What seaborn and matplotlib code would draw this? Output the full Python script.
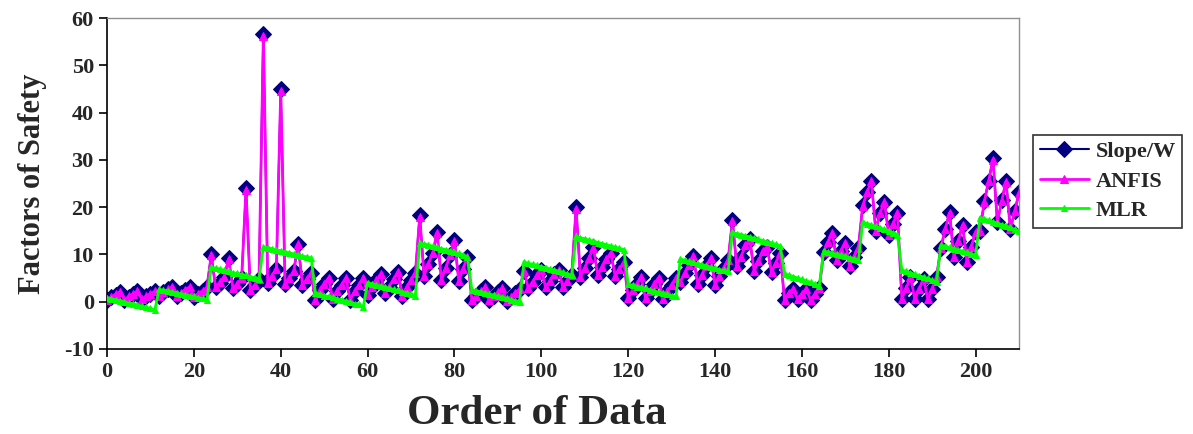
import numpy as np
import matplotlib
matplotlib.use("Agg")
import matplotlib.pyplot as plt
import seaborn as sns

# Slope/W factors of safety (blocks of 12, later blocks of 9/10)
slope_w = [
    0.3, 1.0, 1.5, 2.1, 0.4, 1.0, 1.6, 2.2, 0.5, 1.1, 1.7, 2.3,
    1.3, 2.0, 2.6, 3.2, 1.2, 1.9, 2.5, 3.1, 1.0, 1.7, 2.3, 3.0,
    10.0, 3.0, 4.0, 5.2, 9.2, 2.8, 3.8, 5.0, 24.0, 2.5, 3.5, 4.8,
    56.7, 4.0, 5.5, 7.0, 45.0, 3.8, 5.0, 6.5, 12.3, 3.5, 4.8, 6.0,
    0.3, 2.5, 3.8, 5.0, 0.5, 2.3, 3.6, 5.0, 0.4, 2.2, 3.5, 4.9,
    1.5, 3.0, 4.5, 5.8, 1.8, 3.2, 4.8, 6.3, 1.3, 3.0, 4.5, 6.0,
    18.3, 5.5, 8.0, 10.3, 14.8, 4.6, 7.2, 9.8, 13.0, 4.4, 7.0, 9.5,
    0.4, 1.2, 2.2, 3.0, 0.3, 1.1, 2.0, 2.8, 0.2, 1.0, 1.9, 2.7,
    6.5, 2.8, 4.2, 5.6, 6.8, 3.0, 4.4, 5.8, 6.6, 3.0, 4.3, 5.6,
    20.0, 5.2, 7.2, 9.2, 11.5, 5.6, 7.4, 9.0, 10.3, 5.5, 6.9, 8.4,
    0.8, 2.4, 3.8, 5.2, 0.7, 2.3, 3.7, 5.1, 0.6, 2.2, 3.6, 5.0,
    4.2, 6.0, 7.8, 9.6, 3.8, 5.7, 7.6, 9.2, 3.6, 5.4, 7.2, 8.8,
    17.2, 7.5, 9.5, 12.0, 13.2, 6.5, 8.5, 10.8, 11.6, 6.2, 8.2, 10.2,
    0.4, 1.8, 2.7, 0.5, 1.7, 2.6, 0.4, 1.6, 2.8,
    10.5, 12.6, 14.6, 8.8, 10.8, 12.4, 7.6, 9.5, 11.4,
    20.4, 23.2, 25.6, 15.0, 18.8, 21.0, 14.2, 16.5, 18.8,
    0.6, 2.8, 5.2, 0.6, 2.6, 4.8, 0.5, 2.7, 5.3,
    11.4, 15.4, 18.9, 9.4, 12.8, 16.3, 8.4, 11.6, 14.8,
    15.0, 21.2, 25.6, 30.3, 16.8, 21.4, 25.5, 15.3, 19.2, 23.1,
]

anfis = [
    0.3, 1.0, 1.6, 2.1, 0.4, 1.1, 1.6, 2.2, 0.5, 1.1, 1.7, 2.2,
    1.3, 2.0, 2.6, 3.1, 1.2, 1.9, 2.5, 3.1, 1.0, 1.7, 2.3, 3.0,
    9.8, 3.0, 4.1, 5.2, 9.0, 2.8, 3.8, 5.0, 23.6, 2.5, 3.5, 4.8,
    56.3, 4.0, 5.5, 7.0, 44.6, 3.8, 5.0, 6.5, 12.1, 3.5, 4.8, 6.0,
    0.3, 2.5, 3.8, 5.0, 0.5, 2.3, 3.6, 5.0, 0.4, 2.2, 3.5, 4.9,
    1.5, 3.0, 4.5, 5.8, 1.8, 3.2, 4.8, 6.3, 1.3, 3.0, 4.5, 6.0,
    18.0, 5.5, 8.0, 10.3, 14.6, 4.6, 7.2, 9.8, 12.8, 4.4, 7.0, 9.5,
    0.4, 1.2, 2.2, 3.0, 0.3, 1.1, 2.0, 2.8, 0.2, 1.0, 1.9, 2.7,
    6.5, 2.8, 4.2, 5.6, 6.8, 3.0, 4.4, 5.8, 6.6, 3.0, 4.3, 5.6,
    19.7, 5.2, 7.2, 9.2, 11.4, 5.6, 7.4, 9.0, 10.3, 5.5, 6.9, 8.4,
    0.8, 2.4, 3.8, 5.2, 0.7, 2.3, 3.7, 5.1, 0.6, 2.2, 3.6, 5.0,
    4.2, 6.0, 7.8, 9.6, 3.8, 5.7, 7.6, 9.2, 3.6, 5.4, 7.2, 8.8,
    17.0, 7.5, 9.5, 12.0, 13.1, 6.5, 8.5, 10.8, 11.5, 6.2, 8.2, 10.2,
    0.4, 1.8, 2.7, 0.5, 1.7, 2.6, 0.4, 1.6, 2.8,
    10.5, 12.6, 14.5, 8.8, 10.8, 12.4, 7.6, 9.5, 11.4,
    20.3, 23.1, 25.5, 15.0, 18.8, 21.0, 14.2, 16.5, 18.8,
    0.6, 2.8, 5.2, 0.6, 2.6, 4.8, 0.5, 2.7, 5.3,
    11.4, 15.3, 18.8, 9.4, 12.8, 16.2, 8.4, 11.6, 14.8,
    15.0, 21.1, 25.5, 30.0, 16.8, 21.3, 25.4, 15.3, 19.2, 23.0,
]

mlr = [
    0.8, 0.6, 0.4, 0.2, 0.0, -0.3, -0.4, -0.7, -0.9, -1.2, -1.4, -1.8,
    2.6, 2.4, 2.3, 2.0, 1.9, 1.6, 1.5, 1.2, 1.1, 0.8, 0.7, 0.4,
    7.3, 7.1, 6.9, 6.6, 6.5, 6.1, 6.0, 5.7, 5.6, 5.2, 5.1, 4.8,
    11.6, 11.4, 11.2, 10.9, 10.8, 10.5, 10.3, 10.1, 9.9, 9.6, 9.5, 9.2,
    1.8, 1.6, 1.3, 1.1, 0.9, 0.6, 0.4, 0.1, -0.1, -0.4, -0.6, -1.1,
    4.0, 3.8, 3.5, 3.3, 3.1, 2.8, 2.6, 2.4, 2.1, 1.9, 1.6, 1.3,
    12.4, 12.2, 12.0, 11.7, 11.5, 11.2, 11.0, 10.7, 10.5, 10.2, 9.9, 9.5,
    2.5, 2.3, 2.1, 1.8, 1.6, 1.4, 1.1, 0.9, 0.7, 0.4, 0.2, 0.0,
    8.4, 8.1, 7.9, 7.7, 7.4, 7.2, 6.9, 6.7, 6.4, 6.2, 5.9, 5.6,
    13.8, 13.5, 13.3, 13.0, 12.8, 12.5, 12.3, 12.0, 11.8, 11.5, 11.3, 11.0,
    3.7, 3.5, 3.2, 3.0, 2.8, 2.5, 2.3, 2.0, 1.8, 1.6, 1.3, 1.1,
    9.0, 8.8, 8.5, 8.3, 8.0, 7.8, 7.6, 7.3, 7.1, 6.8, 6.6, 6.4,
    14.7, 14.4, 14.2, 13.9, 13.7, 13.4, 13.2, 12.9, 12.6, 12.4, 12.1, 11.8,
    5.9, 5.6, 5.3, 5.0, 4.7, 4.4, 4.1, 3.7, 3.4,
    10.7, 10.5, 10.3, 10.0, 9.8, 9.6, 9.3, 9.1, 8.8,
    16.8, 16.5, 16.2, 15.9, 15.6, 15.3, 15.0, 14.6, 14.2,
    6.7, 6.4, 6.1, 5.8, 5.5, 5.2, 4.9, 4.5, 4.2,
    12.0, 11.7, 11.5, 11.2, 10.9, 10.7, 10.4, 10.1, 9.8,
    17.8, 17.5, 17.2, 16.9, 16.6, 16.3, 16.0, 15.7, 15.3, 15.0,
]

order = np.arange(len(slope_w))

sns.set_style("white")
plt.rcParams['font.family'] = ['Liberation Serif', 'DejaVu Serif']
plt.rcParams['font.weight'] = 'bold'
plt.rcParams['axes.unicode_minus'] = False

fig = plt.figure(figsize=(11.93, 4.34), dpi=100)
ax = fig.add_axes([0.0897, 0.196, 0.7645, 0.7625])

sns.lineplot(x=order, y=slope_w, ax=ax, color='#000080', lw=1.5, marker='D',
             markersize=8, markeredgecolor='#000080', label='Slope/W', zorder=2)
sns.lineplot(x=order, y=anfis, ax=ax, color='#FF00FF', lw=2, marker='^',
             markersize=6, markeredgecolor='#FF00FF', label='ANFIS', zorder=3)
sns.lineplot(x=order, y=mlr, ax=ax, color='#00FF00', lw=2, marker='^',
             markersize=4, markeredgecolor='#00FF00', label='MLR', zorder=4)

ax.set_xlim(0, 210)
ax.set_ylim(-10, 60)
ax.set_xticks(range(0, 201, 20))
ax.set_yticks(range(-10, 61, 10))
ax.tick_params(axis='both', direction='out', length=6, width=1.2,
               labelsize=16, bottom=True, left=True, color='black')
for lab in ax.get_xticklabels() + ax.get_yticklabels():
    lab.set_fontweight('bold')

for side in ['left', 'bottom']:
    ax.spines[side].set_color('black')
    ax.spines[side].set_linewidth(1.2)
for side in ['top', 'right']:
    ax.spines[side].set_color('#909090')
    ax.spines[side].set_linewidth(1)

ax.set_xlabel('Order of Data', fontsize=31, fontweight='bold')
ax.xaxis.set_label_coords(0.471, -0.14)
ax.set_ylabel('Factors of Safety', fontsize=22, fontweight='bold')
ax.yaxis.set_label_coords(-0.066, 0.5)

leg = ax.legend(loc='upper left', bbox_to_anchor=(0.866, 0.689),
                bbox_transform=fig.transFigure, frameon=True, fancybox=False,
                edgecolor='black', handlelength=2.2,
                borderpad=0.3, labelspacing=0.4, handletextpad=0.3,
                borderaxespad=0, prop={'weight': 'bold', 'size': 16})
leg.get_frame().set_linewidth(1.2)

fig.savefig('out.png', dpi=100)
plt.close(fig)
